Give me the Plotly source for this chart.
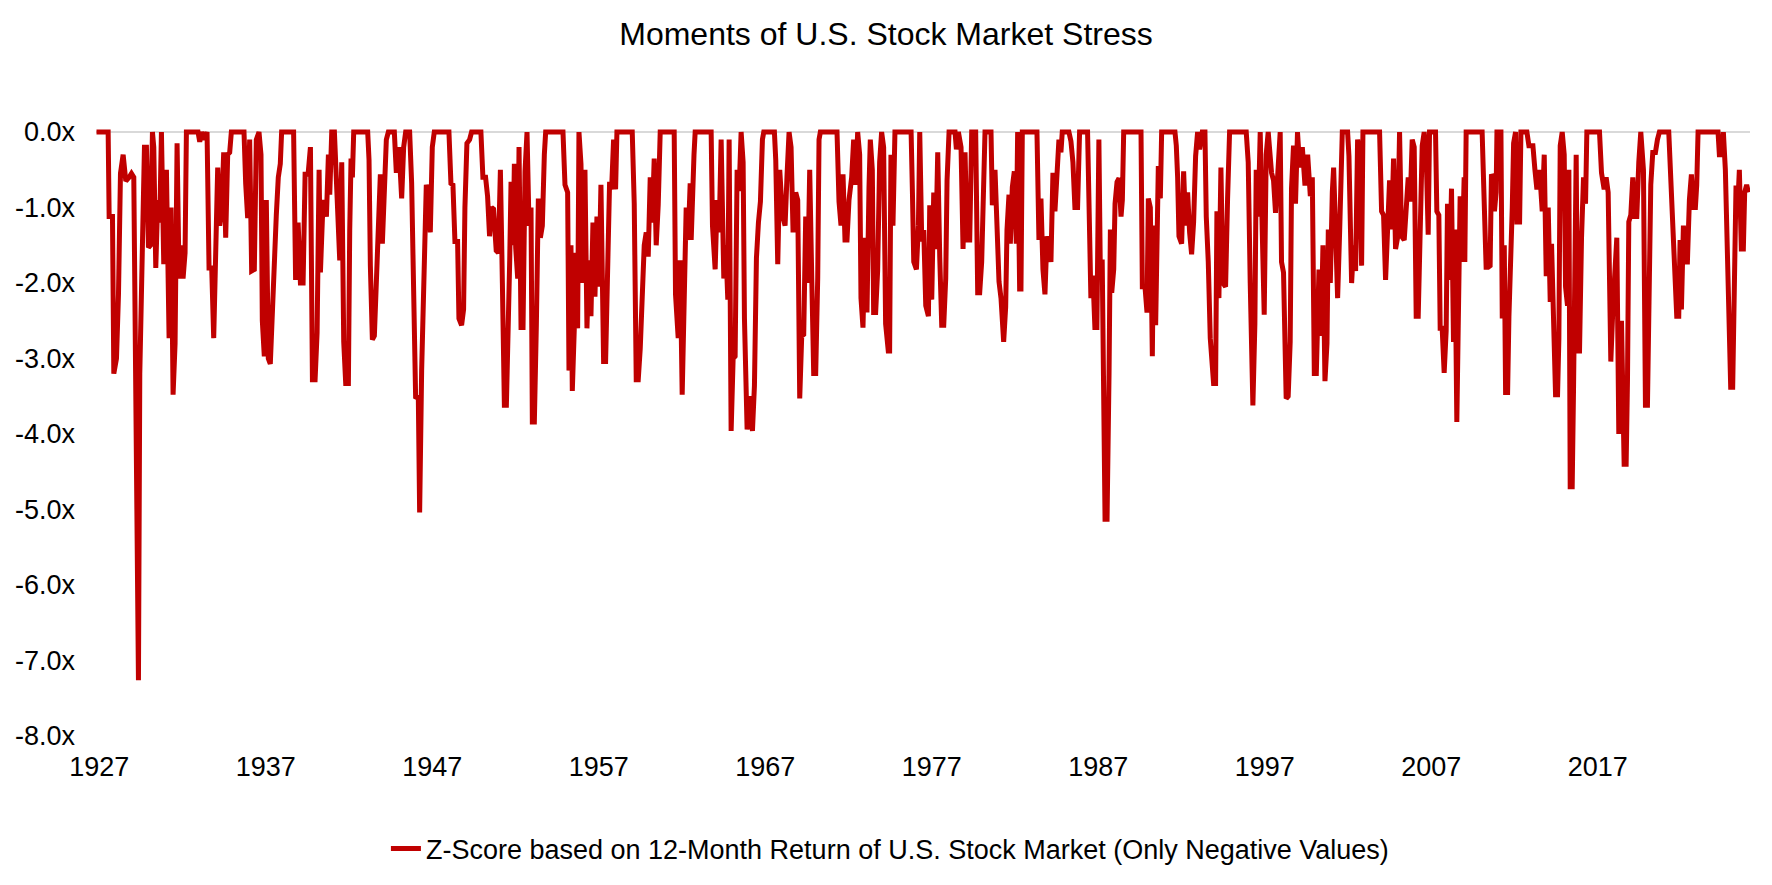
import plotly.graph_objects as go

# (decimal year, z-score) readings, zero where the series is clipped at 0
stress_1927_1938 = [
    (1926.83, 0), (1927.53, 0), (1927.59, -1.12), (1927.79, -1.12), (1927.87, -3.2), (1928.03, -3.0),
    (1928.15, -2.15), (1928.27, -0.55), (1928.43, -0.3), (1928.59, -0.65), (1928.79, -0.6), (1928.93, -0.55),
    (1929.07, -0.6), (1929.15, -2.6), (1929.27, -5.86), (1929.35, -7.26), (1929.43, -3.2), (1929.51, -2.05),
    (1929.59, -1.0), (1929.71, -0.2), (1929.83, -0.2), (1929.95, -1.53), (1930.07, -1.5), (1930.19, 0),
    (1930.27, -0.2), (1930.39, -1.8), (1930.51, -0.9), (1930.63, -1.2), (1930.73, 0), (1930.87, -1.75),
    (1931.03, -0.5), (1931.19, -2.73), (1931.31, -1.0), (1931.43, -3.48), (1931.55, -2.8), (1931.67, -0.15),
    (1931.79, -1.94), (1931.91, -1.5), (1932.03, -1.94), (1932.15, -1.6), (1932.23, 0), (1932.93, 0),
    (1933.03, -0.13), (1933.15, 0), (1933.31, -0.1), (1933.47, 0), (1933.59, -1.8), (1933.75, -1.8),
    (1933.87, -2.73), (1933.99, -1.3), (1934.11, -0.47), (1934.23, -1.24), (1934.35, -1.05), (1934.47, -0.27),
    (1934.59, -1.4), (1934.71, -0.3), (1934.83, -0.27), (1934.93, 0), (1935.69, 0), (1935.79, -0.68),
    (1935.91, -1.14), (1936.03, -0.1), (1936.15, -1.84), (1936.31, -1.82), (1936.43, -0.1), (1936.59, 0),
    (1936.71, -0.3), (1936.79, -2.5), (1936.91, -2.97), (1937.03, -0.9), (1937.15, -3.0), (1937.27, -3.07),
    (1937.39, -2.35), (1937.51, -1.48), (1937.63, -1.1), (1937.75, -0.6), (1937.87, -0.42), (1937.95, 0),
    (1938.67, 0), (1938.79, -1.96),
]

stress_1939_1950 = [
    (1938.94, -1.2), (1939.08, -2.0), (1939.24, -2.0), (1939.36, -0.56), (1939.54, -0.56), (1939.68, -0.2),
    (1939.80, -3.28), (1939.96, -3.28), (1940.08, -2.66), (1940.20, -0.5), (1940.28, -1.86), (1940.40, -1.14),
    (1940.52, -0.9), (1940.64, -1.12), (1940.76, -0.3), (1940.84, -0.83), (1940.96, 0), (1941.12, 0),
    (1941.28, -1.05), (1941.44, -1.7), (1941.56, -0.4), (1941.68, -2.78), (1941.80, -3.33), (1941.96, -3.33),
    (1942.04, -1.3), (1942.12, -0.35), (1942.20, -0.6), (1942.28, 0), (1943.12, 0), (1943.20, -0.37),
    (1943.28, -1.77), (1943.40, -2.75), (1943.52, -2.7), (1943.64, -2.0), (1943.76, -1.1), (1943.88, -0.56),
    (1944.00, -1.48), (1944.12, -0.5), (1944.24, -0.1), (1944.36, 0), (1944.72, 0), (1944.84, -0.54),
    (1945.00, -0.2), (1945.16, -0.88), (1945.28, -0.2), (1945.40, 0), (1945.64, 0), (1945.76, -0.68),
    (1946.00, -3.53), (1946.16, -3.5), (1946.24, -5.04), (1946.36, -3.16), (1946.44, -2.25), (1946.52, -1.33),
    (1946.64, -0.7), (1946.76, -0.8), (1946.88, -1.33), (1947.00, -0.2), (1947.12, 0), (1948.00, 0),
    (1948.12, -0.68), (1948.24, -0.7), (1948.36, -1.45), (1948.52, -1.45), (1948.60, -2.47), (1948.76, -2.56),
    (1948.88, -2.35), (1948.96, -1.0), (1949.08, -0.15), (1949.24, -0.1), (1949.36, 0), (1949.92, 0),
    (1950.04, -0.6), (1950.20, -0.6), (1950.32, -0.85), (1950.44, -1.38), (1950.56, -1.0), (1950.68, -1.02),
    (1950.84, -1.57),
]

stress_1951_1962 = [
    (1950.97, -1.6), (1951.09, -0.5), (1951.21, -2.0), (1951.33, -3.62), (1951.45, -3.62), (1951.57, -2.73),
    (1951.65, -1.7), (1951.73, -0.66), (1951.85, -1.5), (1951.93, -0.42), (1952.01, -1.53), (1952.13, -1.94),
    (1952.21, -0.2), (1952.33, -2.59), (1952.45, -2.59), (1952.57, -0.52), (1952.69, 0), (1952.81, -1.24),
    (1952.93, -1.0), (1953.01, -3.84), (1953.13, -3.84), (1953.25, -2.56), (1953.37, -0.88), (1953.49, -1.4),
    (1953.61, -1.24), (1953.73, -0.3), (1953.81, 0), (1954.85, 0), (1954.97, -0.7), (1955.13, -0.8),
    (1955.21, -3.16), (1955.33, -1.5), (1955.41, -3.43), (1955.53, -2.6), (1955.61, -1.6), (1955.73, -2.6),
    (1955.81, 0), (1955.93, -0.42), (1956.05, -2.0), (1956.17, -0.5), (1956.29, -2.6), (1956.41, -1.7),
    (1956.53, -2.44), (1956.65, -1.2), (1956.77, -2.18), (1956.89, -1.12), (1957.01, -2.05), (1957.13, -0.7),
    (1957.29, -3.04), (1957.41, -3.04), (1957.53, -2.1), (1957.65, -0.66), (1957.77, -0.76), (1957.89, -0.1),
    (1958.01, -0.76), (1958.09, 0), (1959.01, 0), (1959.13, -0.95), (1959.25, -3.28), (1959.37, -3.28),
    (1959.49, -2.87), (1959.61, -2.05), (1959.73, -1.5), (1959.85, -1.33), (1959.97, -1.65), (1960.09, -0.6),
    (1960.21, -1.2), (1960.33, -0.35), (1960.45, -1.5), (1960.57, -0.97), (1960.69, 0), (1961.53, 0),
    (1961.61, -2.15), (1961.77, -2.73), (1961.89, -1.7), (1962.01, -3.48), (1962.13, -1.7), (1962.25, -1.0),
    (1962.37, -1.43), (1962.49, -0.68), (1962.55, -1.43), (1962.65, -0.5), (1962.72, -0.3),
]

stress_1963_1974 = [
    (1962.79, 0), (1963.75, 0), (1963.83, -1.24), (1963.99, -1.82), (1964.11, -0.9), (1964.23, -1.33),
    (1964.35, -0.1), (1964.51, -1.94), (1964.63, -1.5), (1964.75, -2.22), (1964.83, -0.1), (1964.95, -3.96),
    (1965.07, -3.0), (1965.19, -2.97), (1965.31, -0.5), (1965.43, -0.78), (1965.55, 0), (1965.67, -0.4),
    (1965.75, -2.47), (1965.91, -3.94), (1966.07, -3.5), (1966.23, -3.96), (1966.35, -3.36), (1966.47, -1.67),
    (1966.59, -1.2), (1966.71, -0.92), (1966.83, -0.1), (1966.91, 0), (1967.55, 0), (1967.63, -0.37),
    (1967.75, -1.75), (1967.87, -0.5), (1968.03, -1.1), (1968.19, -1.24), (1968.31, -0.56), (1968.43, 0),
    (1968.55, -0.2), (1968.67, -1.33), (1968.83, -0.8), (1968.95, -0.9), (1969.07, -3.53), (1969.19, -2.7),
    (1969.31, -2.68), (1969.43, -1.12), (1969.55, -2.0), (1969.67, -0.5), (1969.79, -1.9), (1969.91, -3.2),
    (1970.03, -3.2), (1970.15, -1.94), (1970.23, -0.1), (1970.31, 0), (1971.31, 0), (1971.43, -0.92),
    (1971.55, -1.24), (1971.67, -0.56), (1971.79, -1.43), (1971.91, -1.43), (1972.03, -0.9), (1972.19, -0.6),
    (1972.31, -0.1), (1972.43, -0.7), (1972.55, 0), (1972.67, -0.3), (1972.75, -2.2), (1972.87, -2.59),
    (1972.99, -1.4), (1973.11, -2.39), (1973.23, -0.75), (1973.31, -0.1), (1973.43, -0.5), (1973.51, -2.39),
    (1973.63, -2.39), (1973.75, -1.84), (1973.87, -0.4), (1973.99, 0), (1974.11, -0.2), (1974.23, -2.54),
    (1974.39, -2.9), (1974.47, -2.9), (1974.55, -0.3), (1974.67, -1.24), (1974.79, 0),
]

stress_1975_1986 = [
    (1975.76, 0), (1975.84, -0.8), (1975.92, -1.72), (1976.08, -1.82), (1976.20, -1.24), (1976.28, 0),
    (1976.40, -1.45), (1976.52, -1.3), (1976.64, -2.3), (1976.80, -2.44), (1976.88, -0.97), (1977.00, -2.22),
    (1977.12, -0.8), (1977.24, -1.55), (1977.36, -0.27), (1977.48, -1.65), (1977.60, -2.56), (1977.72, -2.56),
    (1977.84, -1.94), (1977.92, -0.64), (1978.04, 0), (1978.40, 0), (1978.48, -0.23), (1978.60, 0),
    (1978.76, -0.2), (1978.88, -1.55), (1979.00, -0.27), (1979.12, -1.43), (1979.28, -1.43), (1979.40, 0),
    (1979.64, 0), (1979.76, -2.13), (1979.88, -2.13), (1980.00, -1.72), (1980.12, -0.5), (1980.20, 0),
    (1980.56, 0), (1980.64, -0.97), (1980.80, -0.5), (1980.92, -1.12), (1981.04, -1.98), (1981.16, -2.2),
    (1981.32, -2.78), (1981.44, -2.32), (1981.52, -1.3), (1981.64, -0.83), (1981.72, -1.48), (1981.84, -0.73),
    (1981.96, -0.52), (1982.08, -1.48), (1982.16, 0), (1982.28, -2.08), (1982.36, -2.08), (1982.44, 0),
    (1983.32, 0), (1983.44, -1.43), (1983.56, -0.88), (1983.68, -1.82), (1983.80, -2.15), (1983.92, -1.38),
    (1984.04, -1.5), (1984.16, -1.72), (1984.28, -0.54), (1984.40, -1.05), (1984.52, -0.5), (1984.64, -0.1),
    (1984.76, -0.27), (1984.84, 0), (1985.24, 0), (1985.36, -0.12), (1985.48, -0.4), (1985.60, -1.0),
    (1985.76, -1.0), (1985.88, 0), (1986.36, 0), (1986.44, -1.21), (1986.56, -2.2), (1986.68, -1.9),
    (1986.80, -2.59), (1986.92, -2.59),
]

stress_1987_1998 = [
    (1987.04, -0.1), (1987.12, -1.72), (1987.24, -1.72), (1987.41, -5.13), (1987.53, -5.13), (1987.65, -3.2),
    (1987.73, -1.29), (1987.81, -2.13), (1987.93, -1.82), (1988.01, -0.95), (1988.13, -0.66), (1988.25, -0.61),
    (1988.37, -1.12), (1988.45, -0.9), (1988.53, 0), (1989.57, 0), (1989.65, -2.05), (1989.81, -2.05),
    (1989.93, -2.39), (1990.01, -0.88), (1990.13, -1.0), (1990.25, -2.97), (1990.33, -1.24), (1990.45, -2.56),
    (1990.53, -1.67), (1990.61, -0.45), (1990.73, -0.88), (1990.81, 0), (1991.61, 0), (1991.69, -0.18),
    (1991.77, -0.6), (1991.85, -1.38), (1992.01, -1.48), (1992.13, -0.52), (1992.25, -1.24), (1992.37, -0.8),
    (1992.49, -1.33), (1992.61, -1.62), (1992.73, -1.19), (1992.85, -0.32), (1992.97, 0), (1993.09, -0.23),
    (1993.25, 0), (1993.41, 0), (1993.49, -1.12), (1993.61, -1.72), (1993.73, -2.73), (1993.81, -3.0),
    (1993.93, -3.33), (1994.05, -3.33), (1994.13, -1.05), (1994.25, -2.2), (1994.37, -0.47), (1994.49, -2.0),
    (1994.65, -2.05), (1994.77, -0.88), (1994.89, 0), (1995.89, 0), (1996.01, -0.4), (1996.13, -2.0),
    (1996.29, -3.62), (1996.41, -2.54), (1996.49, -0.5), (1996.61, -1.12), (1996.73, 0), (1996.85, -1.29),
    (1996.97, -2.42), (1997.09, -0.3), (1997.21, 0), (1997.41, -0.54), (1997.53, -0.64), (1997.65, -1.07),
    (1997.77, -0.6), (1997.93, 0), (1998.01, -1.72), (1998.13, -1.86), (1998.29, -3.53), (1998.41, -3.5),
    (1998.53, -2.78), (1998.61, -0.75), (1998.73, -0.18), (1998.85, -0.95),
]

stress_1999_2010 = [
    (1998.97, 0), (1999.10, -0.47), (1999.26, -0.2), (1999.42, -0.71), (1999.58, -0.3), (1999.74, -0.85),
    (1999.86, -0.6), (1999.98, -3.2), (2000.10, -3.2), (2000.18, -2.56), (2000.26, -1.82), (2000.38, -2.7),
    (2000.50, -1.5), (2000.62, -3.3), (2000.74, -2.8), (2000.82, -1.29), (2000.94, -2.0), (2001.06, -0.8),
    (2001.14, -0.47), (2001.26, -1.33), (2001.38, -2.2), (2001.50, -1.33), (2001.58, -0.66), (2001.66, 0),
    (2001.98, 0), (2002.06, -0.32), (2002.22, -2.0), (2002.34, -1.5), (2002.46, -1.84), (2002.58, -0.1),
    (2002.70, -0.3), (2002.82, -1.77), (2002.90, 0), (2003.90, 0), (2004.02, -1.05), (2004.14, -1.1),
    (2004.26, -1.96), (2004.38, -1.43), (2004.50, -0.64), (2004.62, -1.29), (2004.74, -0.35), (2004.86, -1.55),
    (2004.98, -1.4), (2005.10, 0), (2005.22, -1.38), (2005.38, -1.43), (2005.50, -0.95), (2005.62, -0.6),
    (2005.74, -0.92), (2005.86, -0.1), (2005.98, -0.2), (2006.10, -2.44), (2006.22, -2.44), (2006.34, -1.53),
    (2006.46, -0.18), (2006.58, 0), (2006.70, -0.3), (2006.82, -1.36), (2006.90, 0), (2007.26, 0),
    (2007.34, -1.05), (2007.46, -1.1), (2007.54, -2.6), (2007.66, -2.6), (2007.78, -3.19), (2007.90, -2.63),
    (2007.98, -0.95), (2008.10, -1.96), (2008.22, -0.75), (2008.34, -2.78), (2008.42, -1.29), (2008.54, -3.84),
    (2008.66, -2.49), (2008.74, -0.85), (2008.86, -1.72), (2008.98, -0.6), (2009.02, -1.72), (2009.10, 0),
    (2010.06, 0), (2010.18, -0.88), (2010.30, -1.79), (2010.42, -1.79), (2010.54, -1.77), (2010.62, -0.56),
    (2010.70, -0.6), (2010.80, -1.05), (2010.90, -0.8),
]

stress_2011_2025 = [
    (2010.95, 0), (2011.19, 0), (2011.27, -2.47), (2011.39, -1.5), (2011.47, -3.45), (2011.59, -3.45),
    (2011.67, -2.44), (2011.75, -1.96), (2011.87, -1.0), (2011.95, -0.15), (2012.07, 0), (2012.15, -1.19),
    (2012.31, -1.19), (2012.39, 0), (2012.75, 0), (2012.87, -0.18), (2013.11, -0.18), (2013.23, -0.5),
    (2013.35, -0.76), (2013.51, -0.5), (2013.67, -1.05), (2013.79, -0.3), (2013.91, -1.91), (2014.03, -1.0),
    (2014.15, -2.25), (2014.23, -1.48), (2014.35, -2.7), (2014.47, -3.48), (2014.59, -3.48), (2014.67, -2.73),
    (2014.75, -0.18), (2014.87, 0), (2014.99, -0.3), (2015.07, -2.05), (2015.19, -2.3), (2015.27, -0.5),
    (2015.35, -4.7), (2015.47, -4.7), (2015.55, -3.4), (2015.63, -2.2), (2015.71, -0.3), (2015.79, -2.9),
    (2015.91, -2.9), (2016.03, -1.4), (2016.15, -0.6), (2016.27, -0.95), (2016.35, 0), (2017.11, 0),
    (2017.23, -0.54), (2017.39, -0.76), (2017.51, -0.6), (2017.63, -0.8), (2017.79, -3.04), (2017.91, -2.35),
    (2018.03, -1.82), (2018.15, -1.4), (2018.27, -4.0), (2018.43, -2.5), (2018.59, -4.4), (2018.71, -4.4),
    (2018.79, -3.3), (2018.87, -1.19), (2018.99, -1.1), (2019.11, -0.6), (2019.23, -1.12), (2019.35, -1.12),
    (2019.47, -0.4), (2019.59, 0), (2019.75, -0.5), (2019.87, -3.62), (2019.99, -3.62), (2020.07, -2.5),
    (2020.19, -0.7), (2020.31, -0.27), (2020.47, -0.27), (2020.59, -0.1), (2020.71, 0), (2021.27, 0),
    (2021.39, -0.6), (2021.51, -1.05), (2021.63, -1.5), (2021.75, -2.44), (2021.87, -2.44), (2021.95, -1.43),
    (2022.03, -2.35), (2022.15, -1.24), (2022.27, -1.72), (2022.39, -1.72), (2022.51, -0.9), (2022.63, -0.56),
    (2022.75, -1.0), (2022.87, -1.0), (2022.95, -0.7), (2023.03, 0), (2024.23, 0), (2024.31, -0.3),
    (2024.47, -0.3), (2024.55, 0), (2024.67, -0.5), (2024.75, -1.33), (2024.87, -2.25), (2024.99, -3.38),
    (2025.11, -3.38), (2025.23, -1.91), (2025.31, -0.71), (2025.43, -0.9), (2025.51, -0.5), (2025.63, -1.55),
    (2025.75, -1.55), (2025.83, -0.8), (2025.95, -0.7), (2026.05, -0.8),
]

x_tick_years = [1927, 1937, 1947, 1957, 1967, 1977, 1987, 1997, 2007, 2017]
y_tick_values = [0, -1, -2, -3, -4, -5, -6, -7, -8]
y_tick_labels = ["0.0x", "-1.0x", "-2.0x", "-3.0x", "-4.0x", "-5.0x", "-6.0x", "-7.0x", "-8.0x"]

series_name = "Z-Score based on 12-Month Return of U.S. Stock Market (Only Negative Values)"
title_text = "Moments of U.S. Stock Market Stress"

points = (stress_1927_1938 + stress_1939_1950 + stress_1951_1962 + stress_1963_1974
          + stress_1975_1986 + stress_1987_1998 + stress_1999_2010 + stress_2011_2025)
xs = [p[0] for p in points]
ys = [p[1] for p in points]

FONT = "Liberation Sans, Arial, sans-serif"

fig = go.Figure()
fig.add_trace(go.Scatter(
    x=xs, y=ys, mode="lines", name=series_name,
    line=dict(color="#C00000", width=5),
))

fig.update_layout(
    width=1772, height=885,
    margin=dict(l=96, r=22, t=126, b=149),
    paper_bgcolor="white", plot_bgcolor="white",
    font=dict(family=FONT, color="#000000", size=27),
    title=dict(text=title_text, x=0.5, xanchor="center", y=0.962, yanchor="middle",
               yref="container", font=dict(family=FONT, size=32, color="#000000")),
    showlegend=True,
    legend=dict(orientation="h", x=0.48, xanchor="center", y=-0.185, yanchor="middle",
                font=dict(family=FONT, size=27, color="#000000"), bgcolor="rgba(0,0,0,0)"),
    xaxis=dict(range=[1926.8, 2026.15], tickvals=x_tick_years,
               ticktext=[str(y) for y in x_tick_years], showgrid=False, zeroline=False,
               showline=False, ticks="", tickfont=dict(size=27), ticklabelstandoff=12),
    yaxis=dict(range=[-8.0, 0.08], tickvals=y_tick_values, ticktext=y_tick_labels,
               showgrid=False, zeroline=True, zerolinecolor="#D9D9D9", zerolinewidth=2,
               showline=False, ticks="", tickfont=dict(size=27), ticklabelstandoff=20),
)

fig.write_html("out.html")
